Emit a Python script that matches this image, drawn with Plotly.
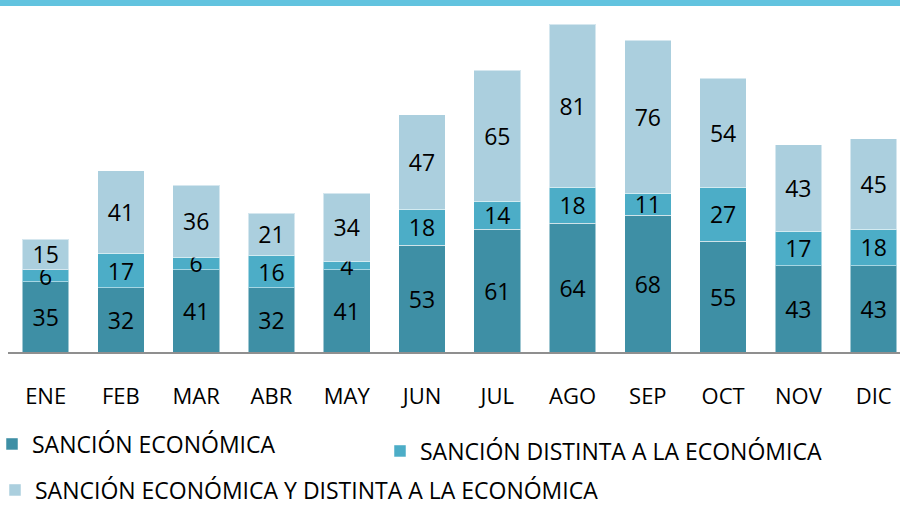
import plotly.graph_objects as go

months = ["ENE", "FEB", "MAR", "ABR", "MAY", "JUN", "JUL", "AGO", "SEP", "OCT", "NOV", "DIC"]
sancion_economica = [35, 32, 41, 32, 41, 53, 61, 64, 68, 55, 43, 43]
sancion_distinta = [6, 17, 6, 16, 4, 18, 14, 18, 11, 27, 17, 18]
sancion_ambas = [15, 41, 36, 21, 34, 47, 65, 81, 76, 54, 43, 45]

names = ["SANCIÓN ECONÓMICA", "SANCIÓN DISTINTA A LA ECONÓMICA",
         "SANCIÓN ECONÓMICA Y DISTINTA A LA ECONÓMICA"]
colors = ["#3E8FA5", "#4CADC7", "#ABCFDE"]
series = [sancion_economica, sancion_distinta, sancion_ambas]
legends = ["legend", "legend2", "legend3"]

FONT = "Open Sans"
fig = go.Figure()
for name, vals, col, lg in zip(names, series, colors, legends):
    fig.add_trace(go.Bar(
        x=months, y=vals, name=name, legend=lg, showlegend=True,
        marker=dict(color=col, line=dict(color="rgba(255,255,255,0.5)", width=1)),
        width=0.62,
        text=[str(v) for v in vals],
        textposition="inside", insidetextanchor="middle",
        textangle=0, constraintext="none",
        textfont=dict(family=FONT, size=23, color="#000000"),
    ))

W, H = 900, 506
ml, mr, mt, mb = 8, 0, 6, 154
pw, ph = W - ml - mr, H - mt - mb

def px_x(x):
    return (x - ml) / pw

def px_y(y):
    return (H - mb - y) / ph

legfont = dict(family=FONT, size=23, color="#000000")
fig.update_layout(
    width=W, height=H,
    margin=dict(l=ml, r=mr, t=mt, b=mb, autoexpand=False),
    barmode="stack",
    plot_bgcolor="white", paper_bgcolor="white",
    font=dict(family=FONT, size=22, color="#000000"),
    uniformtext=dict(minsize=22, mode="show"),
    xaxis=dict(range=[-0.5, 11.35], showline=True, linecolor="#8F8F8F", linewidth=2,
               ticks="", showgrid=False, ticklabelstandoff=24, automargin=False,
               tickfont=dict(family=FONT, size=22, color="#000000")),
    yaxis=dict(range=[0, 172], visible=False, showgrid=False, automargin=False),
    legend=dict(x=px_x(-8), y=px_y(444), xanchor="left", yanchor="middle",
                font=legfont, bgcolor="rgba(0,0,0,0)"),
    legend2=dict(x=px_x(380), y=px_y(451), xanchor="left", yanchor="middle",
                 font=legfont, bgcolor="rgba(0,0,0,0)"),
    legend3=dict(x=px_x(-5), y=px_y(490), xanchor="left", yanchor="middle",
                 font=legfont, bgcolor="rgba(0,0,0,0)"),
    shapes=[dict(type="rect", xref="paper", yref="paper",
                 x0=-ml / pw, x1=1 + mr / pw, y0=1, y1=1 + mt / ph,
                 fillcolor="#62C3DF", line=dict(width=0), layer="above")],
)

fig.write_html("out.html", config={"displayModeBar": False},
               post_script="document.body.style.margin='0';")
